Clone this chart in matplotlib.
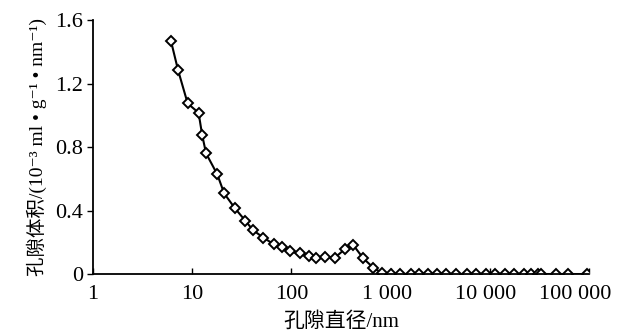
import matplotlib.pyplot as plt
from matplotlib.ticker import FixedLocator, NullLocator
from matplotlib.transforms import ScaledTranslation

plt.rcParams['font.family'] = ['Liberation Serif', 'Noto Sans CJK SC', 'DejaVu Sans']
plt.rcParams['axes.unicode_minus'] = False

# 孔隙直径 (nm) 与 孔隙体积
diameter = [6.1, 7.2, 9.0, 11.6, 12.6, 13.8, 17.9, 21.0, 27.0, 34.3, 41.0, 52.1,
            66.2, 81.1, 96.2, 121, 150, 179, 220, 274, 345, 420, 530, 669, 811,
            1000, 1256, 1590, 1930, 2400, 2960, 3650, 4540, 5950, 7330, 9120,
            11300, 14200, 17600, 21900, 26000, 30300, 32700, 46400, 61000, 95500]
volume = [1.47, 1.285, 1.075, 1.016, 0.876, 0.76, 0.628, 0.508, 0.414, 0.336, 0.277, 0.229,
          0.189, 0.168, 0.143, 0.130, 0.115, 0.103, 0.109, 0.103, 0.156, 0.183, 0.099, 0.040, 0.008,
          0, 0, 0, 0, 0, 0, 0, 0, 0, 0, 0,
          0, 0, 0, 0, 0, 0, 0, 0, 0, 0]

xticks = [1, 10, 100, 1000, 10000, 100000]
xticklabels = ['1', '10', '100', '1 000', '10 000', '100 000']
yticks = [0, 0.4, 0.8, 1.2, 1.6]
yticklabels = ['0', '0.4', '0.8', '1.2', '1.6']

fig = plt.figure(figsize=(6.2, 3.35), dpi=100)
ax = fig.add_axes([0.15, 0.182, 0.80, 0.758])

ax.plot(diameter, volume, color='black', lw=1.5, marker='D', ms=5,
        mfc='white', mec='black', mew=1.4)

ax.set_xscale('log')
ax.set_xlim(1, 100000)
ax.set_ylim(0, 1.6)
ax.xaxis.set_major_locator(FixedLocator(xticks))
ax.xaxis.set_minor_locator(NullLocator())
ax.set_xticklabels(xticklabels)
ax.set_yticks(yticks)
ax.set_yticklabels(yticklabels)

for s in ['top', 'right']:
    ax.spines[s].set_visible(False)
for s in ['left', 'bottom']:
    ax.spines[s].set_linewidth(1.3)
ax.tick_params(axis='x', direction='in', length=4, width=1, labelsize=16, pad=8)
ax.tick_params(axis='y', direction='out', length=4, width=1, labelsize=16, pad=3)

# 最右边的标签往左挪一点，免得被裁掉
labs = ax.get_xticklabels()
labs[-1].set_transform(labs[-1].get_transform() + ScaledTranslation(-14 / 100, 0, fig.dpi_scale_trans))
labs[-2].set_transform(labs[-2].get_transform() + ScaledTranslation(-4 / 100, 0, fig.dpi_scale_trans))
labs[-3].set_transform(labs[-3].get_transform() + ScaledTranslation(-4 / 100, 0, fig.dpi_scale_trans))

ax.set_xlabel('孔隙直径/nm', fontsize=15, labelpad=6)
ax.set_ylabel('孔隙体积/(10⁻³ ml • g⁻¹ • nm⁻¹)', fontsize=14, labelpad=6)

fig.savefig('out.png', dpi=100, facecolor='white')
